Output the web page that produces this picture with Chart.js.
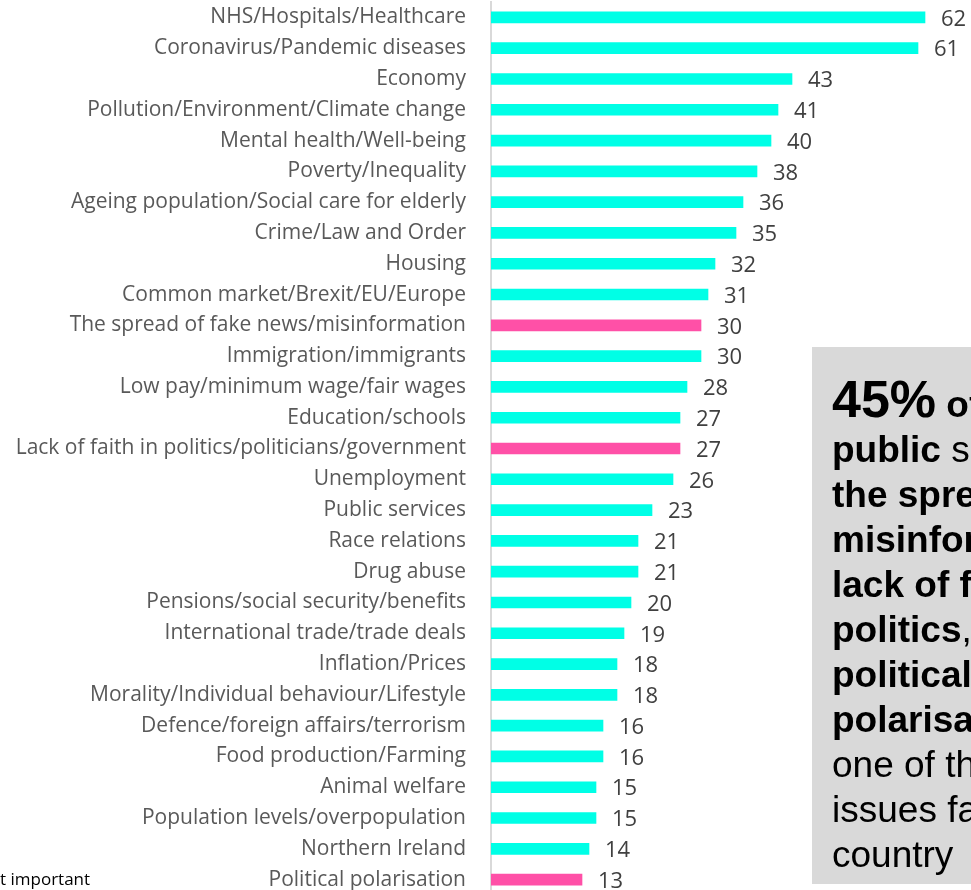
<!DOCTYPE html>
<html>
<head>
<meta charset="utf-8">
<title>Issues facing the country</title>
<script src="https://cdn.jsdelivr.net/npm/chart.js@4.4.1/dist/chart.umd.min.js"></script>
<style>
  html, body { margin: 0; padding: 0; background: #fff; overflow: hidden; width: 971px; height: 890px; }
  #wrap { position: absolute; left: 0; top: 0; width: 971px; height: 900px; }
  .callout {
    position: absolute; left: 812px; top: 347px; width: 260px; height: 537px;
    background: #d9d9d9; box-sizing: border-box; padding: 25px 0 0 20px;
    font-family: "Liberation Sans", Arial, sans-serif; font-size: 37px; line-height: 45px;
    color: #000; white-space: nowrap;
  }
  .callout .big { font-size: 52px; line-height: 55px; }
  .legend-cut {
    position: absolute; left: 0; top: 867px;
    font-family: "Open Sans", sans-serif; font-size: 17px; color: #000;
  }
</style>
</head>
<body>
<div id="wrap"><canvas id="issuesChart"></canvas></div>
<div class="callout">
  <div><b><span class="big">45%</span> of the</b></div>
  <div><b>public</b> say</div>
  <div><b>the spread of</b></div>
  <div><b>misinformation,</b></div>
  <div><b>lack of faith in</b></div>
  <div><b>politics</b>,</div>
  <div><b>political</b></div>
  <div><b>polarisation</b> is</div>
  <div>one of the</div>
  <div>issues facing the</div>
  <div>country</div>
</div>
<div class="legend-cut">t important</div>
<script>
const issues = [
  "NHS/Hospitals/Healthcare",
  "Coronavirus/Pandemic diseases",
  "Economy",
  "Pollution/Environment/Climate change",
  "Mental health/Well-being",
  "Poverty/Inequality",
  "Ageing population/Social care for elderly",
  "Crime/Law and Order",
  "Housing",
  "Common market/Brexit/EU/Europe",
  "The spread of fake news/misinformation",
  "Immigration/immigrants",
  "Low pay/minimum wage/fair wages",
  "Education/schools",
  "Lack of faith in politics/politicians/government",
  "Unemployment",
  "Public services",
  "Race relations",
  "Drug abuse",
  "Pensions/social security/benefits",
  "International trade/trade deals",
  "Inflation/Prices",
  "Morality/Individual behaviour/Lifestyle",
  "Defence/foreign affairs/terrorism",
  "Food production/Farming",
  "Animal welfare",
  "Population levels/overpopulation",
  "Northern Ireland",
  "Political polarisation"
];
const shares = [62, 61, 43, 41, 40, 38, 36, 35, 32, 31, 30, 30, 28, 27, 27, 26, 23, 21, 21, 20, 19, 18, 18, 16, 16, 15, 15, 14, 13];
const highlighted = [
  "The spread of fake news/misinformation",
  "Lack of faith in politics/politicians/government",
  "Political polarisation"
];

const CYAN = "#00ffe6";
const PINK = "#ff50a7";

// numbers printed just past the end of each bar
const valueLabels = {
  id: "valueLabels",
  afterDatasetsDraw(chart) {
    const ctx = chart.ctx;
    const meta = chart.getDatasetMeta(0);
    ctx.save();
    ctx.font = "22px 'Open Sans', sans-serif";
    ctx.fillStyle = "#404040";
    ctx.textAlign = "left";
    ctx.textBaseline = "middle";
    meta.data.forEach((bar, i) => {
      ctx.fillText(String(shares[i]), bar.x + 16, bar.y + 2);
    });
    ctx.restore();
  }
};

new Chart(document.getElementById("issuesChart"), {
  type: "bar",
  data: {
    labels: issues,
    datasets: [{
      data: shares,
      backgroundColor: issues.map((name) => highlighted.includes(name) ? PINK : CYAN),
      barThickness: 11,
      borderWidth: 0
    }]
  },
  options: {
    indexAxis: "y",
    responsive: true,
    maintainAspectRatio: false,
    animation: false,
    layout: { padding: { top: 2, right: 4, bottom: 5, left: 0 } },
    scales: {
      x: {
        display: false,
        min: 0,
        max: 68
      },
      y: {
        // fixed label column; no extra room above/below the rows
        afterFit: (scale) => {
          scale.width = 491;
          scale.paddingTop = 0;
          scale.paddingBottom = 0;
        },
        grid: { display: false, drawTicks: false },
        border: { display: true, color: "#d9d9d9", width: 2 },
        ticks: {
          padding: 25,
          color: "#595959",
          font: { family: "'Open Sans', sans-serif", size: 21 },
          autoSkip: false
        }
      }
    },
    plugins: {
      legend: { display: false },
      tooltip: { enabled: false }
    }
  },
  plugins: [valueLabels]
});
</script>
</body>
</html>
